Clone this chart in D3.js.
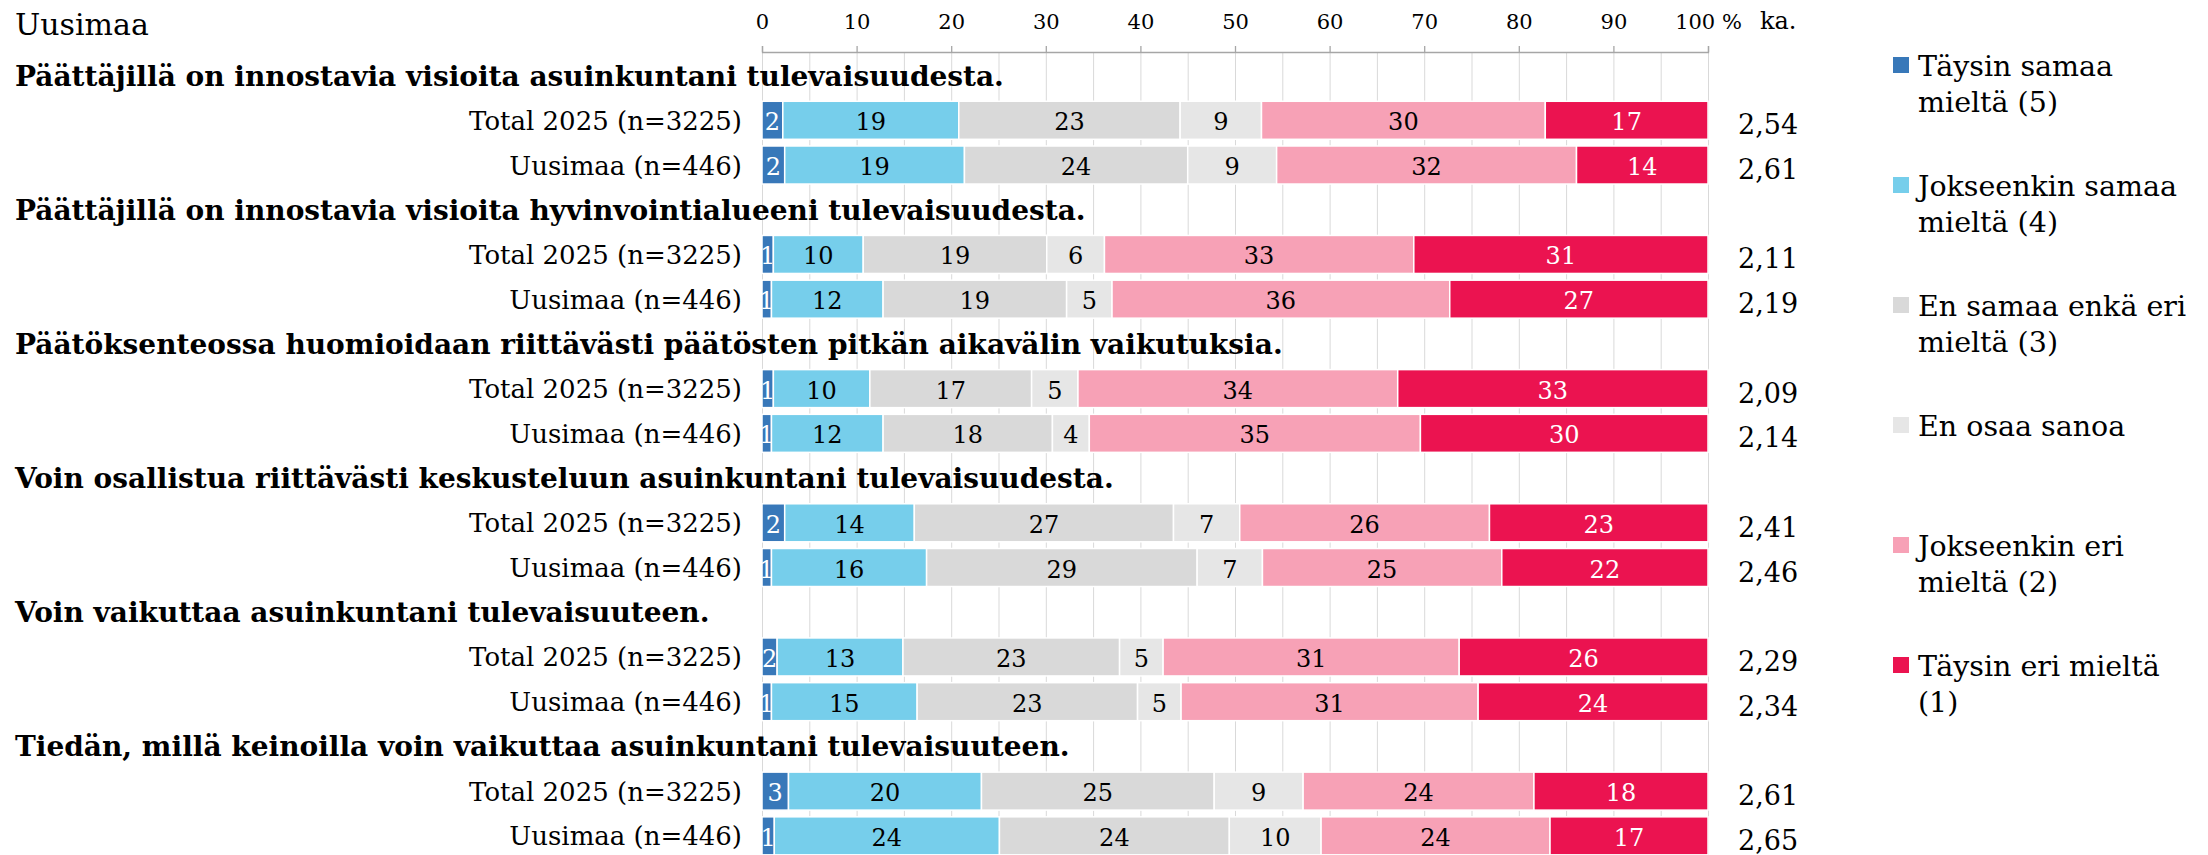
<!DOCTYPE html>
<html>
<head>
<meta charset="utf-8">
<script src="https://cdn.jsdelivr.net/npm/d3@7"></script>
<style>
  body { margin: 0; background: #ffffff; }
  svg { display: block; font-family: "DejaVu Serif", serif; }
</style>
</head>
<body>
<div id="chart"></div>
<script>
// ---------------- DATA ----------------
const chartTitle = "Uusimaa";
const averageHeader = "ka.";

const statements = [
  "Päättäjillä on innostavia visioita asuinkuntani tulevaisuudesta.",
  "Päättäjillä on innostavia visioita hyvinvointialueeni tulevaisuudesta.",
  "Päätöksenteossa huomioidaan riittävästi päätösten pitkän aikavälin vaikutuksia.",
  "Voin osallistua riittävästi keskusteluun asuinkuntani tulevaisuudesta.",
  "Voin vaikuttaa asuinkuntani tulevaisuuteen.",
  "Tiedän, millä keinoilla voin vaikuttaa asuinkuntani tulevaisuuteen."
];

const groups = ["Total 2025 (n=3225)", "Uusimaa (n=446)"];

const seriesNames = [
  "Täysin samaa mieltä (5)",
  "Jokseenkin samaa mieltä (4)",
  "En samaa enkä eri mieltä (3)",
  "En osaa sanoa",
  "Jokseenkin eri mieltä (2)",
  "Täysin eri mieltä (1)"
];

const legendLines = [
  ["Täysin samaa", "mieltä (5)"],
  ["Jokseenkin samaa", "mieltä (4)"],
  ["En samaa enkä eri", "mieltä (3)"],
  ["En osaa sanoa"],
  ["Jokseenkin eri", "mieltä (2)"],
  ["Täysin eri mieltä", "(1)"]
];

const seriesColors = ["#3878B9", "#76CEEB", "#D9D9D9", "#E6E6E6", "#F7A1B6", "#EB1350"];
const valueTextColors = ["#ffffff", "#000000", "#000000", "#000000", "#000000", "#ffffff"];

// rows: statement 1 Total, statement 1 Uusimaa, statement 2 Total, ...
const taysinSamaa     = [2.2, 2.4, 1.2, 1.0, 1.2, 1.0, 2.4, 1.0, 1.6, 1.0, 2.8, 1.3];
const jokseenkinSamaa = [18.6, 19.0, 9.5, 11.8, 10.2, 11.8, 13.7, 16.4, 13.3, 15.4, 20.4, 23.8];
const enSamaaEnkaEri  = [23.4, 23.6, 19.4, 19.4, 17.1, 17.9, 27.4, 28.6, 22.9, 23.3, 24.6, 24.3];
const enOsaaSanoa     = [8.6, 9.4, 6.1, 4.8, 4.9, 3.9, 7.0, 6.9, 4.6, 4.6, 9.4, 9.7];
const jokseenkinEri   = [30.0, 31.7, 32.7, 35.7, 33.8, 35.0, 26.4, 25.3, 31.3, 31.4, 24.4, 24.2];
const taysinEri       = [17.2, 13.9, 31.1, 27.3, 32.8, 30.4, 23.1, 21.8, 26.3, 24.3, 18.4, 16.7];

const averages = [2.54, 2.61, 2.11, 2.19, 2.09, 2.14, 2.41, 2.46, 2.29, 2.34, 2.61, 2.65];

const tickValues = [0, 10, 20, 30, 40, 50, 60, 70, 80, 90, 100];
const tickLabels = ["0", "10", "20", "30", "40", "50", "60", "70", "80", "90", "100 %"];
const gridValues = [0, 5, 10, 15, 20, 25, 30, 35, 40, 45, 50, 55, 60, 65, 70, 75, 80, 85, 90, 95, 100];

// ---------------- CHART ----------------
const W = 2208, H = 855;
const seriesData = [taysinSamaa, jokseenkinSamaa, enSamaaEnkaEri, enOsaaSanoa, jokseenkinEri, taysinEri];
const seriesKeys = seriesNames.map((d, i) => "s" + i);

const svg = d3.select("#chart").append("svg")
  .attr("width", W).attr("height", H)
  .attr("viewBox", `0 0 ${W} ${H}`);

const x = d3.scaleLinear().domain([0, 100]).range([762, 1708]);

const rows = statements.flatMap((s, i) => groups.map((g, j) => ({ key: `r${i}_${j}`, group: g, idx: i * 2 + j })));
const slotKeys = statements.flatMap((s, i) => [`h${i}`, `r${i}_0`, `r${i}_1`]);

const y = d3.scaleBand().domain(slotKeys).range([53.2, 858.2]).paddingInner(0.15).paddingOuter(0.075);
const yc = k => y(k) + y.bandwidth() / 2;

// gridlines
svg.append("g").attr("class", "grid")
  .selectAll("line").data(gridValues).join("line")
  .attr("x1", d => x(d) + 0.5).attr("x2", d => x(d) + 0.5)
  .attr("y1", 52).attr("y2", H)
  .attr("stroke", "#D9D9D9").attr("stroke-width", 1);

// axis on top
const axis = d3.axisTop(x)
  .tickValues(tickValues)
  .tickFormat((d, i) => tickLabels[i])
  .tickSizeInner(6).tickSizeOuter(6).tickPadding(17);

const axisG = svg.append("g").attr("transform", "translate(0,52)").call(axis);
axisG.select(".domain").attr("stroke", "#A6A6A6").attr("stroke-width", 1.3);
axisG.selectAll(".tick line").attr("stroke", "#A6A6A6").attr("stroke-width", 1.3);
axisG.selectAll(".tick text")
  .attr("font-family", "DejaVu Serif").attr("font-size", 21).attr("fill", "#000");

// title
svg.append("text").attr("x", 15).attr("y", 35)
  .attr("font-size", 30).attr("fill", "#000").text(chartTitle);

// ka. header
svg.append("text").attr("x", 1760).attr("y", 29)
  .attr("font-size", 24).attr("fill", "#000").text(averageHeader);

// statement headers
svg.append("g").selectAll("text").data(statements).join("text")
  .attr("x", 15)
  .attr("y", (d, i) => yc(`h${i}`) + 10)
  .attr("font-size", 28).attr("font-weight", "bold").attr("fill", "#000")
  .text(d => d);

// group labels
svg.append("g").selectAll("text").data(rows).join("text")
  .attr("x", 742)
  .attr("y", d => yc(d.key) + 9.5)
  .attr("text-anchor", "end")
  .attr("font-size", 26).attr("fill", "#000")
  .text(d => d.group);

// stacked bars
const table = rows.map(r => {
  const o = { key: r.key };
  seriesKeys.forEach((k, si) => { o[k] = seriesData[si][r.idx]; });
  return o;
});
const stacked = d3.stack().keys(seriesKeys)(table);

const layers = svg.append("g").selectAll("g").data(stacked).join("g")
  .attr("fill", (d, i) => seriesColors[i]);

layers.selectAll("rect").data(d => d).join("rect")
  .attr("x", d => x(d[0]))
  .attr("width", d => x(d[1]) - x(d[0]))
  .attr("y", d => y(d.data.key))
  .attr("height", y.bandwidth())
  .attr("stroke", "#ffffff").attr("stroke-width", 1.5);

// value labels
const labelLayers = svg.append("g").selectAll("g").data(stacked).join("g")
  .attr("fill", (d, i) => valueTextColors[i]);

labelLayers.selectAll("text").data(d => d).join("text")
  .attr("x", d => (x(d[0]) + x(d[1])) / 2)
  .attr("y", d => yc(d.data.key) + 10)
  .attr("text-anchor", "middle")
  .attr("font-size", 24)
  .text(d => Math.round(d[1] - d[0]));

// averages
const fmt = d3.format(".2f");
svg.append("g").selectAll("text").data(rows).join("text")
  .attr("x", 1738)
  .attr("y", d => yc(d.key) + 14)
  .attr("font-size", 27).attr("fill", "#000")
  .text(d => fmt(averages[d.idx]).replace(".", ","));

// legend
const legend = svg.append("g").selectAll("g").data(seriesNames).join("g")
  .attr("transform", (d, i) => `translate(1893, ${76 + i * 120})`);
legend.append("rect")
  .attr("x", 0).attr("y", -19).attr("width", 16).attr("height", 16)
  .attr("fill", (d, i) => seriesColors[i]);
legend.append("text")
  .attr("x", 25).attr("y", 0)
  .attr("font-size", 28.5).attr("fill", "#000")
  .selectAll("tspan").data((d, i) => legendLines[i]).join("tspan")
  .attr("x", 25).attr("dy", (d, j) => j === 0 ? 0 : 36)
  .text(d => d);
</script>
</body>
</html>
